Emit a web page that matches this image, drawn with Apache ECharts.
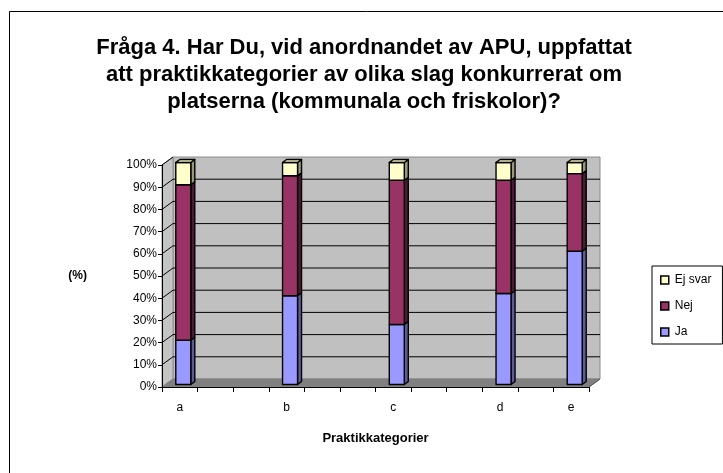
<!DOCTYPE html>
<html><head><meta charset="utf-8">
<script src="https://cdn.jsdelivr.net/npm/echarts@6/dist/echarts.min.js"></script>
<style>html,body{margin:0;padding:0;background:#fff}#c{width:723px;height:473px}</style>
</head><body><div id="c"></div>
<script>
// ---- data ----
const titleLines = [
  'Fråga 4. Har Du, vid anordnandet av APU, uppfattat',
  'att praktikkategorier av olika slag konkurrerat om',
  'platserna (kommunala och friskolor)?'
];
const categories = ['a', '', '', 'b', '', '', 'c', '', '', 'd', '', 'e'];
const seriesNames = ['Ja', 'Nej', 'Ej svar'];
const ja     = [20, null, null, 40, null, null, 27, null, null, 41, null, 60];
const nej    = [70, null, null, 54, null, null, 65, null, null, 51, null, 35];
const ejSvar = [10, null, null,  6, null, null,  8, null, null,  8, null,  5];
const yTicks = [0, 10, 20, 30, 40, 50, 60, 70, 80, 90, 100];
const xAxisName = 'Praktikkategorier';
const yAxisName = '(%)';

// ---- style ----
const FONT = 'Liberation Sans, Arial, sans-serif';
const front = ['#9999FF', '#993366', '#FFFFCC'];
const side  = ['#5C5C99', '#4D1A33', '#99997A'];
const topC  = ['#B8B8FF', '#B84D80', '#E8E8B8'];
const DX = 11, DY = -8;           // wall depth
const BX = 3.5, BY = -2.5;        // bar front plane offset
const BDX = 4, BDY = -3;          // bar depth
const BW = 15;                    // bar width

const seriesArrays = [ja, nej, ejSvar];

function buildData(k) {
  const out = [];
  for (let i = 0; i < categories.length; i++) {
    const v = seriesArrays[k][i];
    if (v == null) continue;
    let base = 0;
    for (let j = 0; j < k; j++) base += seriesArrays[j][i] || 0;
    const isTop = k === seriesArrays.length - 1 ? 1 : 0;
    out.push([i, v, base, isTop]);
  }
  return out;
}

function barRenderer(k) {
  return function (params, api) {
    const idx = api.value(0), v = api.value(1), base = api.value(2), isTop = api.value(3);
    const p0 = api.coord([idx, base]);
    const p1 = api.coord([idx, base + v]);
    const cx = p0[0] + BX;
    const xl = cx - BW / 2, xr = cx + BW / 2;
    const yb = p0[1] + BY, yt = p1[1] + BY;
    const st = { stroke: '#000', lineWidth: 1.4, lineJoin: 'round' };
    const children = [
      { type: 'polygon', shape: { points: [[xr, yb], [xr + BDX, yb + BDY], [xr + BDX, yt + BDY], [xr, yt]] },
        style: Object.assign({ fill: side[k] }, st) },
      { type: 'rect', shape: { x: xl, y: yt, width: BW, height: yb - yt },
        style: Object.assign({ fill: front[k] }, st) }
    ];
    if (isTop) {
      children.push({ type: 'polygon', shape: { points: [[xl, yt], [xl + BDX, yt + BDY], [xr + BDX, yt + BDY], [xr, yt]] },
        style: Object.assign({ fill: topC[k] }, st) });
    }
    return { type: 'group', children: children };
  };
}

function frameRenderer(params, api) {
  const g = params.coordSys;
  const x0 = g.x, x1 = g.x + g.width, yT = g.y, yB = g.y + g.height;
  const ch = [];
  ch.push({ type: 'rect', shape: { x: x0 + DX, y: yT + DY, width: x1 - x0, height: yB - yT },
    style: { fill: '#C0C0C0', stroke: '#8C8C8C', lineWidth: 1 } });
  ch.push({ type: 'polygon', shape: { points: [[x0, yT], [x0 + DX, yT + DY], [x0 + DX, yB + DY], [x0, yB]] },
    style: { fill: '#C4C4C4', stroke: '#8C8C8C', lineWidth: 1 } });
  yTicks.forEach(function (t) {
    const y = api.coord([0, t])[1];
    if (t > 0 && t < 100) {
      ch.push({ type: 'line', shape: { x1: x0 + DX, y1: y + DY, x2: x1 + DX, y2: y + DY },
        style: { stroke: '#000', lineWidth: 1 } });
    }
    if (t > 0) {
      ch.push({ type: 'line', shape: { x1: x0, y1: y, x2: x0 + DX, y2: y + DY },
        style: { stroke: '#000', lineWidth: 1 } });
    }
  });
  ch.push({ type: 'polygon', shape: { points: [[x0, yB], [x1, yB], [x1 + DX, yB + DY], [x0 + DX, yB + DY]] },
    style: { fill: '#808080', stroke: '#808080', lineWidth: 1 } });
  ch.push({ type: 'line', shape: { x1: x1, y1: yB, x2: x1 + DX, y2: yB + DY },
    style: { stroke: '#555', lineWidth: 1 } });
  return { type: 'group', children: ch };
}

const chart = echarts.init(document.getElementById('c'), null, { renderer: 'canvas' });

const series = [{
  type: 'custom', name: '_frame', z: 1, silent: true,
  renderItem: frameRenderer, data: [[0, 0]], clip: false
}];
seriesNames.forEach(function (n, k) {
  series.push({
    type: 'custom', name: n, z: 3, clip: false,
    itemStyle: { color: front[k] },
    renderItem: barRenderer(k),
    data: buildData(k)
  });
});

chart.setOption({
  animation: false,
  backgroundColor: '#fff',
  graphic: [{
    type: 'rect', z: 0, silent: true,
    shape: { x: 9.5, y: 11.5, width: 900, height: 700 },
    style: { fill: 'none', stroke: '#000', lineWidth: 1 }
  }],
  title: {
    text: titleLines.join('\n'),
    left: 364, top: 34, padding: 0, textAlign: 'center',
    textStyle: { fontFamily: FONT, fontSize: 22, fontWeight: 'bold', lineHeight: 27, color: '#000' }
  },
  legend: {
    orient: 'vertical', left: 652, top: 266,
    padding: [8, 11, 6, 8], itemGap: 14,
    backgroundColor: '#fff', borderColor: '#000', borderWidth: 1,
    itemWidth: 8, itemHeight: 8, icon: 'rect',
    textStyle: { fontFamily: FONT, fontSize: 12, color: '#000', padding: [0, 0, 0, 1] },
    data: [
      { name: 'Ej svar', itemStyle: { color: front[2], borderColor: '#000', borderWidth: 1.5 } },
      { name: 'Nej', itemStyle: { color: front[1], borderColor: '#000', borderWidth: 1.5 } },
      { name: 'Ja', itemStyle: { color: front[0], borderColor: '#000', borderWidth: 1.5 } }
    ]
  },
  grid: { left: 162, right: 134, top: 165, bottom: 86, containLabel: false },
  xAxis: {
    type: 'category', data: categories, z: 5,
    name: xAxisName, nameLocation: 'middle', nameGap: 45,
    nameTextStyle: { fontFamily: FONT, fontSize: 13, fontWeight: 'bold', color: '#000' },
    axisLine: { show: true, lineStyle: { color: '#000', width: 1 } },
    axisTick: { show: true, length: 5, interval: 0, lineStyle: { color: '#000' } },
    axisLabel: { interval: 0, margin: 15, fontFamily: FONT, fontSize: 12, color: '#000' },
    splitLine: { show: false }
  },
  yAxis: {
    type: 'value', min: 0, max: 100, interval: 10, z: 5,
    name: yAxisName, nameLocation: 'middle', nameRotate: 0, nameGap: 75,
    nameTextStyle: { fontFamily: FONT, fontSize: 12, fontWeight: 'bold', color: '#000' },
    axisLine: { show: true, lineStyle: { color: '#000', width: 1 } },
    axisTick: { show: true, length: 4, lineStyle: { color: '#000' } },
    axisLabel: { margin: 5, fontFamily: FONT, fontSize: 12, color: '#000', formatter: '{value}%' },
    splitLine: { show: false }
  },
  series: series
});
</script>
</body></html>
